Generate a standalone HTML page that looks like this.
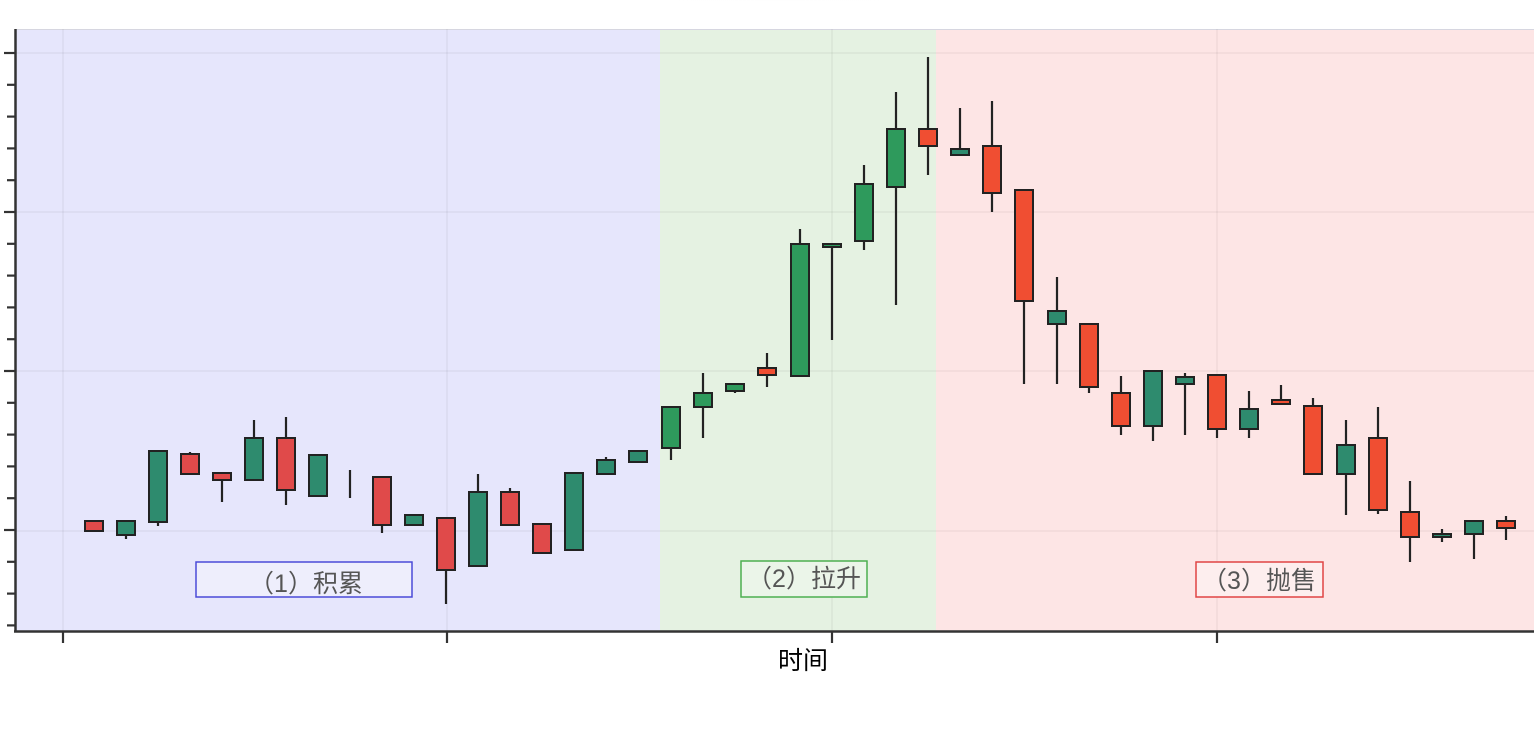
<!DOCTYPE html>
<html><head><meta charset="utf-8"><style>
html,body{margin:0;padding:0;background:#fff;width:1534px;height:734px;overflow:hidden}
svg{display:block}
text{font-family:"Liberation Sans","Noto Sans CJK SC",sans-serif}
</style></head><body>
<svg id="s" width="1534" height="734" xmlns="http://www.w3.org/2000/svg">
<defs>
<radialGradient id="sh" cx="0.5" cy="0" r="0.6"><stop offset="0" stop-color="#ddd"/><stop offset="1" stop-color="#fff" stop-opacity="0"/></radialGradient>
</defs>
<ellipse cx="780" cy="0" rx="340" ry="14" fill="url(#sh)"/>
<rect x="15" y="29" width="645" height="602" fill="#e6e6fc"/>
<rect x="660" y="29" width="276" height="602" fill="#e5f2e2"/>
<rect x="936" y="29" width="598" height="602" fill="#fde5e5"/>
<line x1="15" y1="29.5" x2="1534" y2="29.5" stroke="#d6d6e0" stroke-width="1"/>
<g stroke="#000" stroke-opacity="0.05" stroke-width="1.5">
<line x1="63" y1="29" x2="63" y2="631"/><line x1="447" y1="29" x2="447" y2="631"/>
<line x1="832" y1="29" x2="832" y2="631"/><line x1="1217" y1="29" x2="1217" y2="631"/>
<line x1="15" y1="53" x2="1534" y2="53"/><line x1="15" y1="212" x2="1534" y2="212"/>
<line x1="15" y1="371" x2="1534" y2="371"/><line x1="15" y1="531" x2="1534" y2="531"/>
</g>
<g id="c"></g>
<g stroke="#333" stroke-width="2.5" fill="none">
<line x1="15.5" y1="29" x2="15.5" y2="632"/>
<line x1="14" y1="631.5" x2="1534" y2="631.5"/>
</g>
<g id="t" stroke="#333" stroke-width="2.2"></g>
<g font-size="25" fill="#555">
<rect x="196" y="562" width="216" height="35" fill="#eeeefc" stroke="#4a4ad8" stroke-width="1.5"/>
<text x="306" y="592" text-anchor="middle">（1）积累</text>
<rect x="741" y="561" width="126" height="36" fill="#ebf5e9" stroke="#4caf50" stroke-width="1.5"/>
<text x="804" y="587" text-anchor="middle">（2）拉升</text>
<rect x="1196" y="562" width="127" height="35" fill="#fdeeee" stroke="#e04444" stroke-width="1.5"/>
<text x="1259" y="589" text-anchor="middle">（3）抛售</text>
</g>
<text x="803" y="669" text-anchor="middle" font-size="25" fill="#000">时间</text>
</svg>
<script>
var d=[[94,521,531,521,531,'r'],[126,521,535,521,539,'g'],[158,451,522,451,526,'g'],[190,454,474,452,474,'r'],[222,473,480,473,502,'r'],[254,438,480,420,480,'g'],[286,438,490,417,505,'r'],[318,455,496,455,496,'g'],[350,0,0,470,498,'n'],[382,477,525,477,533,'r'],[414,515,525,515,525,'g'],[446,518,570,518,604,'r'],[478,492,566,474,566,'g'],[510,492,525,488,525,'r'],[542,524,553,524,553,'r'],[574,473,550,473,550,'g'],[606,460,474,457,474,'g'],[638,451,462,451,462,'g'],[671,407,448,407,460,'G'],[703,393,407,373,438,'G'],[735,384,391,384,393,'G'],[767,368,375,353,387,'R'],[800,244,376,229,376,'G'],[832,244,247,244,340,'G'],[864,184,241,165,250,'G'],[896,129,187,92,305,'G'],[928,129,146,57,175,'R'],[960,149,155,108,155,'g'],[992,146,193,101,212,'R'],[1024,190,301,190,384,'R'],[1057,311,324,277,384,'g'],[1089,324,387,324,393,'R'],[1121,393,426,376,435,'R'],[1153,371,426,371,441,'g'],[1185,377,384,373,435,'g'],[1217,375,429,375,438,'R'],[1249,409,429,391,438,'g'],[1281,400,404,385,404,'R'],[1313,406,474,398,474,'R'],[1346,445,474,420,515,'g'],[1378,438,510,407,514,'R'],[1410,512,537,481,562,'R'],[1442,534,537,529,542,'g'],[1474,521,534,521,559,'g'],[1506,521,528,516,540,'R']];
var col={r:'#e04a4a',g:'#2e8b6e',R:'#f04e32',G:'#2e9a5c'};
var h='';d.forEach(function(c){h+='<line x1="'+c[0]+'" y1="'+c[3]+'" x2="'+c[0]+'" y2="'+c[4]+'" stroke="#222" stroke-width="2.2"/>';
if(c[5]!='n')h+='<rect x="'+(c[0]-9)+'" y="'+c[1]+'" width="18" height="'+Math.max(3,c[2]-c[1])+'" fill="'+col[c[5]]+'" stroke="#222" stroke-width="2"/>';});
document.getElementById('c').innerHTML=h;
var t='';for(var y=53;y<632;y+=31.8){var M=[53,212,371,531].some(function(v){return Math.abs(v-y)<3});t+='<line x1="'+(M?4:7)+'" y1="'+y+'" x2="15" y2="'+y+'"/>';}
[63,447,832,1217].forEach(function(x){t+='<line x1="'+x+'" y1="631" x2="'+x+'" y2="643"/>';});
document.getElementById('t').innerHTML=t;
</script>
</body></html>
